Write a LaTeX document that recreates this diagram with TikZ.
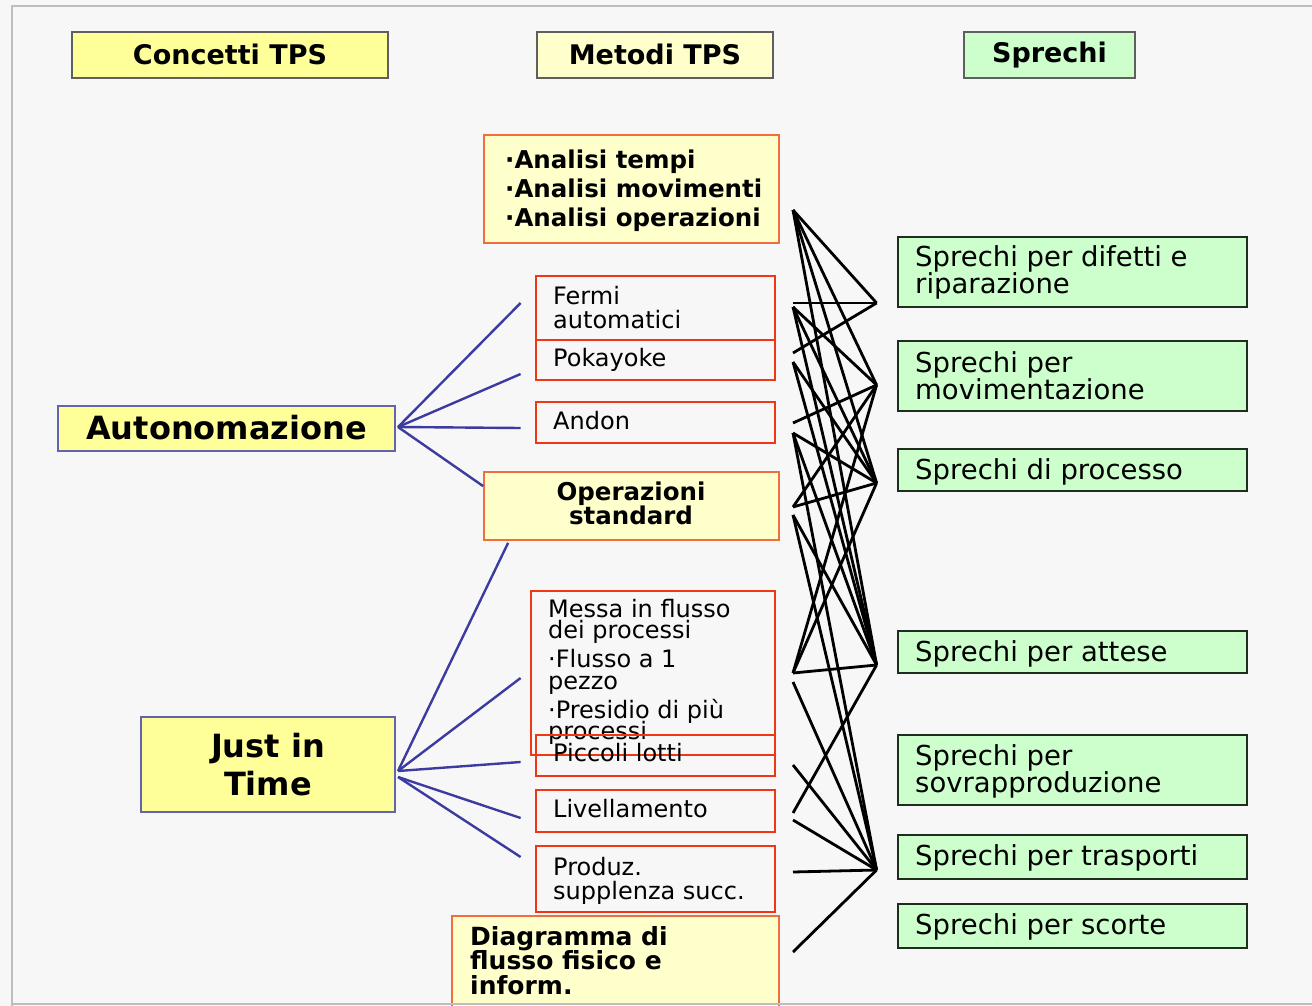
\documentclass[tikz,border=0pt]{standalone}
\usepackage{fontspec}
\setmainfont{DejaVu Sans}
\usetikzlibrary{calc}
\definecolor{bgc}{RGB}{247,247,247}
\definecolor{framec}{RGB}{190,190,190}
\definecolor{hdrline}{RGB}{95,95,95}
\definecolor{yel}{RGB}{255,255,153}
\definecolor{lyel}{RGB}{255,255,204}
\definecolor{lgreen}{RGB}{204,255,204}
\definecolor{redb}{RGB}{240,55,20}
\definecolor{orab}{RGB}{240,110,60}
\definecolor{bluel}{RGB}{60,60,160}
\definecolor{blueb}{RGB}{100,100,170}
\definecolor{greenb}{RGB}{30,45,30}
\begin{document}
% keep baselines at exactly the chosen spacing
\lineskiplimit=-100pt
\begin{tikzpicture}[x=1pt,y=-1pt,
  hdr/.style={draw=hdrline,line width=2.2pt,inner sep=0pt,font=\fontsize{27}{27}\selectfont\bfseries},
  concept/.style={draw=blueb,fill=yel,line width=1.8pt,inner sep=0pt,align=center,font=\fontsize{32}{38}\selectfont\bfseries},
  redbox/.style={draw=redb,line width=2.8pt,inner sep=0pt},
  yelbox/.style={draw=orab,fill=lyel,line width=1.8pt,inner sep=0pt},
  waste/.style={draw=greenb,fill=lgreen,line width=2.8pt,inner sep=0pt},
  txt/.style={inner sep=0pt,anchor=north west,align=left},
  mtxt/.style={txt,font=\fontsize{24}{24}\selectfont},
  mbold/.style={txt,font=\fontsize{24.5}{29}\selectfont\bfseries},
  wtxt/.style={txt,font=\fontsize{27.5}{27}\selectfont},
  blink/.style={draw=bluel,line width=2.4pt},
  klink/.style={draw=black,line width=2.8pt},
]
\useasboundingbox (0,0) rectangle (1312,1006);
\fill[bgc] (0,0) rectangle (1312,1006);

% column headers
\node[hdr,fill=yel,minimum width=316,minimum height=46] (hc) at (230,55) {\raisebox{2pt}{Concetti TPS}};
\node[hdr,fill=lyel,minimum width=236,minimum height=46] (hm) at (655,55) {\raisebox{2pt}{Metodi TPS}};
\node[hdr,fill=lgreen,minimum width=171,minimum height=46] (hs) at (1049.5,55) {\raisebox{2pt}{Sprechi}};

% TPS concepts
\node[concept,minimum width=337,minimum height=45] (cA) at (226.5,428.5) {\raisebox{3pt}{Autonomazione}};
\node[concept,minimum width=254,minimum height=95] (cJ) at (268,764.5) {Just in\\Time};

% TPS methods
\node[yelbox,minimum width=295,minimum height=108] (mA) at (631.5,189) {};
\node[mbold] (tA) at (505,150) {·Analisi tempi\\·Analisi movimenti\\·Analisi operazioni};
\node[redbox,minimum width=239,minimum height=64] (mF) at (655.5,308) {};
\node[mtxt] (tF) at (553,286) {Fermi\\automatici};
\node[redbox,minimum width=239,minimum height=40] (mP) at (655.5,360) {};
\node[mtxt] (tP) at (553,348) {Pokayoke};
\node[redbox,minimum width=239,minimum height=41] (mN) at (655.5,422.5) {};
\node[mtxt] (tN) at (553,411) {Andon};
\node[yelbox,minimum width=295,minimum height=68] (mO) at (631.5,506) {};
\node[txt,anchor=north,align=center,font=\fontsize{24.5}{24}\selectfont\bfseries] (tO) at (631,482) {Operazioni\\standard};
\node[redbox,minimum width=244,minimum height=164] (mM) at (653,673) {};
\node[txt,font=\fontsize{24}{21.5}\selectfont] (tM) at (548,599) {Messa in flusso\\dei processi\\[7.5pt]·Flusso a 1\\pezzo\\[7.5pt]·Presidio di più\\processi};
\node[redbox,minimum width=239,minimum height=41] (mL) at (655.5,755.5) {};
\node[mtxt] (tL) at (553,743) {Piccoli lotti};
\node[redbox,minimum width=239,minimum height=42] (mV) at (655.5,811) {};
\node[mtxt] (tV) at (553,799) {Livellamento};
\node[redbox,minimum width=239,minimum height=66] (mZ) at (655.5,879) {};
\node[mtxt] (tZ) at (553,857) {Produz.\\supplenza succ.};
\node[yelbox,minimum width=327,minimum height=100] (mD) at (615.5,966) {};
\node[txt,font=\fontsize{25}{24.5}\selectfont\bfseries] (tD) at (470,926) {Diagramma di\\flusso fisico e\\inform.};

% wastes
\node[waste,minimum width=349,minimum height=70] (wD) at (1072.5,272) {};
\node[wtxt] (sD) at (915,245) {Sprechi per difetti e\\riparazione};
\node[waste,minimum width=349,minimum height=70] (wM) at (1072.5,376) {};
\node[wtxt] (sM) at (915,351) {Sprechi per\\movimentazione};
\node[waste,minimum width=349,minimum height=42] (wP) at (1072.5,470) {};
\node[wtxt] (sP) at (915,458) {Sprechi di processo};
\node[waste,minimum width=349,minimum height=42] (wA) at (1072.5,652) {};
\node[wtxt] (sA) at (915,640) {Sprechi per attese};
\node[waste,minimum width=349,minimum height=70] (wS) at (1072.5,770) {};
\node[wtxt] (sS) at (915,744) {Sprechi per\\sovrapproduzione};
\node[waste,minimum width=349,minimum height=44] (wT) at (1072.5,857) {};
\node[wtxt] (sT) at (915,844) {Sprechi per trasporti};
\node[waste,minimum width=349,minimum height=44] (wC) at (1072.5,926) {};
\node[wtxt] (sC) at (915,913) {Sprechi per scorte};

% concept -> method links (blue)
\coordinate (aut) at (398,427);
\coordinate (jitU) at (398,771);
\coordinate (jitD) at (398,777);
\coordinate (bF) at ($(mF.west)+(-14,-5)$);
\coordinate (bP) at ($(mP.west)+(-14,14)$);
\coordinate (bN) at ($(mN.west)+(-14,5.5)$);
\coordinate (bO) at ($(mO.north west)+(0,15)$);
\coordinate (bO2) at ($(mO.south west)+(25,2)$);
\coordinate (bM) at ($(mM.west)+(-9,5)$);
\coordinate (bL) at ($(mL.west)+(-14,6.5)$);
\coordinate (bV) at ($(mV.west)+(-14,7)$);
\coordinate (bZ) at ($(mZ.west)+(-14,-22)$);
\foreach \e in {bF,bP,bN,bO} \draw[blink] (aut) -- (\e);
\foreach \e in {bO2,bM,bL} \draw[blink] (jitU) -- (\e);
\foreach \e in {bV,bZ} \draw[blink] (jitD) -- (\e);

% method ports (left) and waste ports (right)
\coordinate (pA)  at (793,210);
\coordinate (pF1) at (793,303);
\coordinate (pF2) at (793,307);
\coordinate (pP1) at (793,353);
\coordinate (pP2) at (793,362);
\coordinate (pN1) at (793,423);
\coordinate (pN2) at (793,433);
\coordinate (pO1) at (793,507);
\coordinate (pO2) at (793,515);
\coordinate (pM1) at (793,673);
\coordinate (pM2) at (793,682);
\coordinate (pL)  at (793,765);
\coordinate (pV1) at (793,813);
\coordinate (pV2) at (793,820);
\coordinate (pZ)  at (793,872);
\coordinate (pD)  at (793,952);
\coordinate (qD) at ($(wD.west)+(-20,31)$);
\coordinate (qM) at ($(wM.west)+(-20,9)$);
\coordinate (qP) at ($(wP.west)+(-20,13)$);
\coordinate (qA) at ($(wA.west)+(-20,13)$);
\coordinate (qT) at ($(wT.west)+(-20,13)$);

% method -> waste links (black)
\foreach \a/\b in {pA/qD,pA/qM,pA/qP,pA/qA,
                   pF1/qD,pF2/qM,pF2/qP,pF2/qA,
                   pP1/qD,pP2/qP,pP2/qA,
                   pN1/qM,pN2/qP,pN2/qA,pN2/qT,
                   pO1/qP,pO1/qM,pO2/qA,pO2/qT,
                   pM1/qA,pM1/qP,pM1/qM,pM2/qT,
                   pL/qT,pV1/qA,pV2/qT,pZ/qT,pD/qT}
  \draw[klink] (\a) -- (\b);

% page frame
\draw[framec,line width=2pt] (12,1006) -- (12,6) -- (1312,6);
\draw[framec,line width=2pt] (12,1004) -- (1312,1004);
\end{tikzpicture}
\end{document}
